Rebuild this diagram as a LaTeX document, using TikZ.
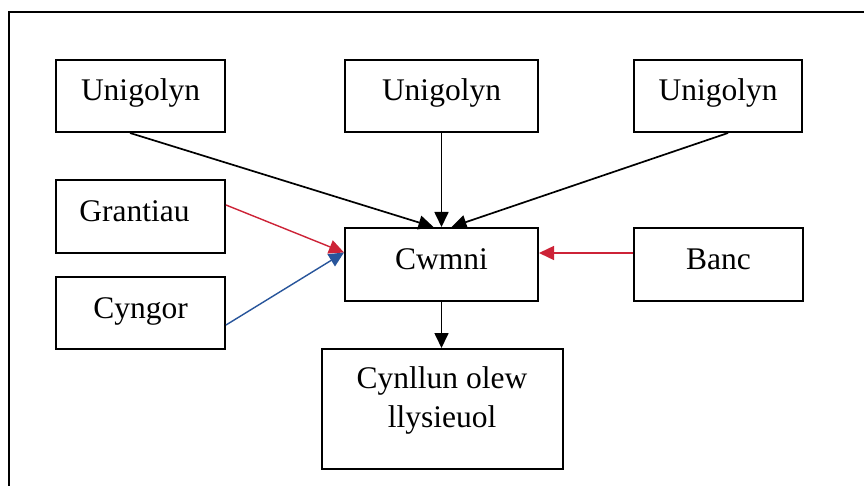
\documentclass[tikz,border=0pt]{standalone}
\usepackage{fontspec}
\setmainfont{Liberation Serif}
\usetikzlibrary{arrows.meta}
\definecolor{arrred}{RGB}{205,35,55}
\definecolor{arrblue}{RGB}{40,85,155}
\begin{document}
\begin{tikzpicture}[x=1pt,y=-1pt,
  box/.style={draw=black, line width=2pt, rectangle, inner sep=0pt,
    font=\fontsize{31.5}{39}\selectfont, text height=21pt, text depth=11pt},
  txt/.style={inner sep=0pt, align=center, font=\fontsize{31.5}{39}\selectfont},
  conn/.style={line width=1.7pt, -{Triangle[length=15pt,width=14pt]}},
  redconn/.style={conn, draw=arrred, fill=arrred, line width=1.4pt},
  blueconn/.style={conn, draw=arrblue, fill=arrblue, line width=1.4pt}]
\useasboundingbox (0,0) rectangle (864,486);
\fill[white] (0,0) rectangle (864,486);
% frame (only top and left edges are visible)
\draw[line width=1.8pt] (9,486) -- (9,12) -- (864,12);
% boxes
\node[box, minimum width=169pt, minimum height=72pt] (u1) at (140.5,96) {Unigolyn};
\node[box, minimum width=193pt, minimum height=72pt] (u2) at (441.5,96) {Unigolyn};
\node[box, minimum width=168pt, minimum height=72pt] (u3) at (718,96) {Unigolyn};
\node[box, minimum width=169pt, minimum height=73pt] (gr) at (140.5,216.5) {\hspace*{-12pt}Grantiau};
\node[box, minimum width=169pt, minimum height=72pt] (cg) at (140.5,313) {Cyngor};
\node[box, minimum width=193pt, minimum height=73pt] (cw) at (441.5,264.5) {Cwmni};
\node[box, minimum width=169pt, minimum height=73pt] (bk) at (718.5,264.5) {Banc};
\node[box, minimum width=241pt, minimum height=120pt] (pl) at (442.5,409) {};
\node[txt] (plt) at (442,400) {Cynllun olew\\llysieuol};
% connectors
\draw[conn] ([xshift=-10.5pt]u1.south) -- ([xshift=-8pt]cw.north);
\draw[conn] (u2.south) -- (cw.north);
\draw[conn] ([xshift=10pt]u3.south) -- ([xshift=10pt]cw.north);
\draw[redconn] ([yshift=11.5pt]gr.east) -- ([yshift=12pt]cw.west);
\draw[blueconn] ([yshift=-12pt]cg.east) -- ([yshift=12pt]cw.west);
\draw[redconn] ([yshift=11.5pt]bk.west) -- ([yshift=11.5pt]cw.east);
\draw[conn] (cw.south) -- (cw.south |- pl.north);
\end{tikzpicture}
\end{document}
